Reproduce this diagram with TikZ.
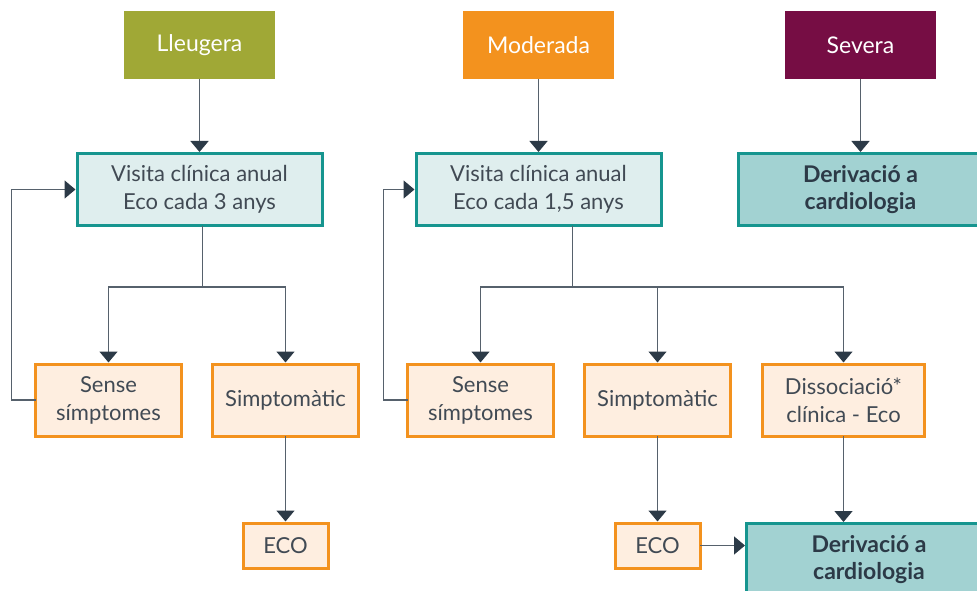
\documentclass[tikz,border=0pt]{standalone}
\usepackage{fontspec}
\setmainfont{Lato}
\usetikzlibrary{positioning,calc,arrows.meta}

\definecolor{oliva}{HTML}{A0A836}
\definecolor{taronja}{HTML}{F3921E}
\definecolor{granat}{HTML}{760D44}
\definecolor{verd}{HTML}{16958F}
\definecolor{verdclar}{HTML}{DFEEEE}
\definecolor{verdmig}{HTML}{A2D2D2}
\definecolor{crema}{HTML}{FEEEE0}
\definecolor{linia}{HTML}{56616C}
\definecolor{punta}{HTML}{2C3A47}
\definecolor{lletra}{HTML}{414A54}

\begin{document}
\begin{tikzpicture}[x=1pt,y=-1pt,auto,outer sep=0pt]
	\tikzstyle{grau}=[rectangle,minimum width=151pt,minimum height=68pt,text=white,font=\fontsize{23}{28}\selectfont]
	\tikzstyle{visita}=[rectangle,draw=verd,line width=3pt,fill=verdclar,minimum width=245pt,minimum height=72pt,align=center,text=lletra,font=\fontsize{22}{27.5}\selectfont]
	\tikzstyle{deriv}=[visita,fill=verdmig,text=punta,font=\fontsize{23}{27.5}\selectfont\bfseries]
	\tikzstyle{cas}=[rectangle,draw=taronja,line width=3pt,fill=crema,minimum width=146pt,minimum height=72pt,align=center,text=lletra,font=\fontsize{22}{28}\selectfont]
	\tikzstyle{eco}=[cas,minimum width=85pt,minimum height=45pt]
	\tikzstyle{fletxa}=[draw=linia,line width=1.5pt,-{Triangle[width=18pt,length=11pt,color=punta]},shorten >=1.5pt]
	\useasboundingbox (0,0) rectangle (977,591);
	\clip (0,0) rectangle (977,591);
		\node[grau, fill=oliva] (lleu) at (199.5,45) {Lleugera};
		\node[grau, fill=taronja] (mod) at (538.5,45) {Moderada};
		\node[grau, fill=granat] (sev) at (860.5,45) {Severa};
		\node[visita] (vis1) [below=74.5pt of lleu] {Visita clínica anual\\Eco cada 3 anys};
		\node[visita] (vis2) [below=74.5pt of mod] {Visita clínica anual\\Eco cada 1,5 anys};
		\node[deriv] (der1) [below=74.5pt of sev] {Derivació a\\cardiologia};
		\node[cas] (sen1) at (108.5,400) {Sense\\símptomes};
		\node[cas] (sim1) [right=31pt of sen1] {Simptomàtic};
		\node[eco] (eco1) [below=87pt of sim1] {ECO};
		\node[cas] (sen2) at (480.5,400) {Sense\\símptomes};
		\node[cas] (sim2) [right=31pt of sen2] {Simptomàtic};
		\node[cas, minimum width=162pt] (dis) [right=32pt of sim2] {Dissociació*\\clínica - Eco};
		\node[eco] (eco2) [below=87pt of sim2] {ECO};
		\node[deriv] (der2) at (869,559.5) {Derivació a\\cardiologia};
			% lleugera
			\draw[fletxa] (lleu) -- (vis1);
			\draw[fletxa] ($(vis1.south)+(3,0)$) -- ++(0,61.5) -| (sen1.north);
			\draw[fletxa] ($(vis1.south)+(3,0)$) -- ++(0,61.5) -| (sim1.north);
			\draw[fletxa] (sen1.west) -- ++(-24,0) |- (vis1.west);
			\draw[fletxa] (sim1) -- (eco1);
			% moderada
			\draw[fletxa] (mod) -- (vis2);
			\draw[fletxa] ($(vis2.south)+(34,0)$) -- ++(0,61.5) -| (sen2.north);
			\draw[fletxa] ($(vis2.south)+(34,0)$) -- ++(0,61.5) -| (sim2.north);
			\draw[fletxa] ($(vis2.south)+(34,0)$) -- ++(0,61.5) -| (dis.north);
			\draw[fletxa] (sen2.west) -- ++(-24,0) |- (vis2.west);
			\draw[fletxa] (sim2.south) -- (eco2.north);
			\draw[fletxa] (dis.south) -- (dis.south |- der2.north);
			\draw[fletxa] (eco2.east) -- (eco2.east -| der2.west);
			% severa
			\draw[fletxa] (sev) -- (der1);
\end{tikzpicture}
\end{document}
